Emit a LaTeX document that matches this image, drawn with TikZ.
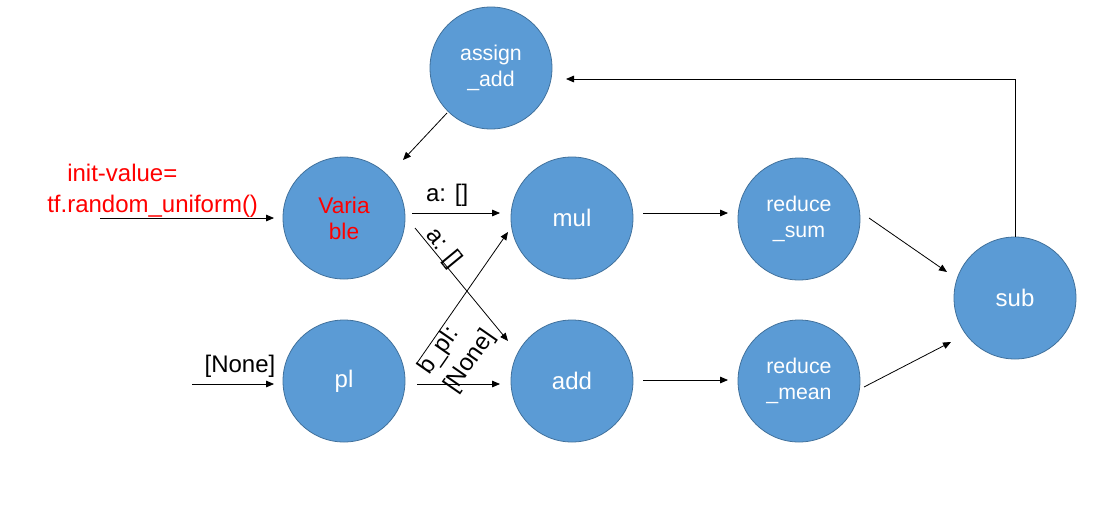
\documentclass[tikz,border=0pt]{standalone}
\usepackage{fontspec}
\setmainfont{Liberation Sans}
\usetikzlibrary{positioning,calc,arrows.meta}
\definecolor{opfill}{HTML}{5B9BD5}
\definecolor{opline}{HTML}{41719C}

\begin{document}
\begin{tikzpicture}[
    x=0.75pt, y=-0.75pt,
    op/.style={circle, fill=opfill, draw=opline, line width=0.6pt, minimum size=91.5pt,
        inner sep=0pt, align=center, text=white, font=\fontsize{18}{22}\selectfont},
    twoline/.style={font=\fontsize{16}{19.5}\selectfont},
    flow/.style={-{Triangle[length=6pt,width=5pt]}, line width=0.6pt},
    lbl/.style={inner sep=0pt, font=\fontsize{18}{23.25}\selectfont}
]
    \useasboundingbox (0,0) rectangle (1107,515);

    % Operation nodes
    \node[op, twoline] (assign) at (491,68) {assign\\\_add};
    \node[op, twoline, text=red, font=\fontsize{17}{19.5}\selectfont] (var) at (344,218) {Varia\\ble};
    \node[op] (mul) at (572,218) {mul};
    \node[op, twoline] (rsum) at (799,219) {reduce\\\_sum};
    \node[op] (pl) at (344,381) {pl};
    \node[op] (add) at (572,381) {add};
    \node[op, twoline] (rmean) at (799,381) {reduce\\\_mean};
    \node[op] (sub) at (1015,298) {sub};

    % Inputs
    \coordinate (initsrc) at (100,218);
    \coordinate (plsrc) at (192,384);
    \node[lbl, text=red, align=left, anchor=south west] (initlbl) at (47,218)
        {\hspace*{15pt}init-value=\\tf.random\_uniform()};
    \node[lbl, anchor=south] (nonelbl) at (240,378) {[None]};
    \draw[flow] (initsrc) -- ($(var)+(-70,0)$);
    \draw[flow] (plsrc) -- ($(pl)+(-70,3)$);

    % Edges
    \draw[flow] ($(var)+(68,-5)$) -- node[lbl, above=4.5pt, pos=.4] {a: []} ($(mul)+(-72,-5)$);
    \draw[flow] ($(var)+(71,10)$) -- node[lbl, sloped, above=-2pt, pos=.23] {a: []} ($(add)+(-64,-40)$);
    \draw[flow] ($(pl)+(73,-18)$) -- node[lbl, sloped, below, align=left, pos=.2] {b\_pl:\\{}[None]} ($(mul)+(-64,14)$);
    \draw[flow] ($(pl)+(73,3)$) -- ($(add)+(-72,3)$);
    \draw[flow] ($(mul)+(71,-5)$) -- ($(rsum)+(-71,-6)$);
    \draw[flow] ($(add)+(71,-1)$) -- ($(rmean)+(-71,-1)$);
    \draw[flow] ($(rsum)+(70,-1)$) -- ($(sub)+(-68,-26)$);
    \draw[flow] ($(rmean)+(65,6)$) -- ($(sub)+(-64,44)$);

    % Feedback
    \draw[flow] (sub.north) |- ($(assign)+(75,11)$);
    \draw[flow] ($(assign)+(-44,45)$) -- ($(var)+(59,-58)$);
\end{tikzpicture}
\end{document}
